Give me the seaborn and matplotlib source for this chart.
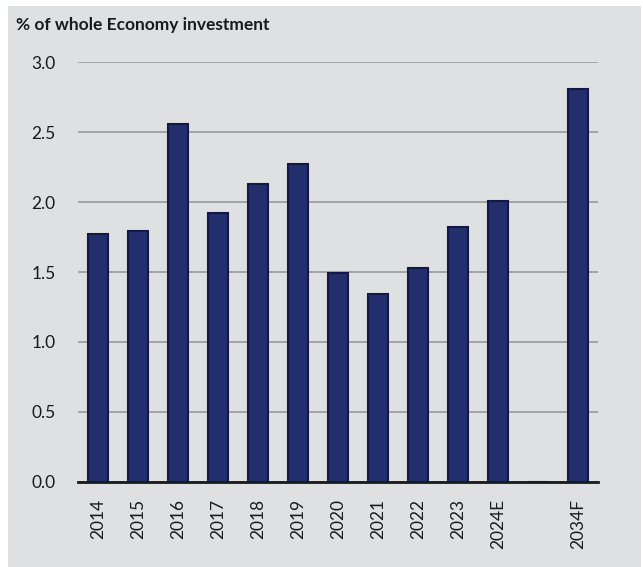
import matplotlib
matplotlib.use("Agg")
import matplotlib.pyplot as plt
from matplotlib.patches import Rectangle
import seaborn as sns
import pandas as pd

# Share of whole-economy investment by year
years = ["2014", "2015", "2016", "2017", "2018", "2019", "2020",
         "2021", "2022", "2023", "2024E", "", "2034F"]
values = [1.77, 1.79, 2.56, 1.92, 2.13, 2.27, 1.49,
          1.34, 1.53, 1.82, 2.01, 0.0, 2.81]
y_ticks = [0.0, 0.5, 1.0, 1.5, 2.0, 2.5, 3.0]

title = "% of whole Economy investment"

BG = "#dfe0e2"
BAR = "#232e6c"
EDGE = "#121848"

sns.set_theme(style="white")
plt.rcParams["font.family"] = ["Lato", "DejaVu Sans"]

df = pd.DataFrame({"year": years, "value": values})

fig = plt.figure(figsize=(6.43, 5.67), dpi=100, facecolor="white")
fig.patches.append(Rectangle((8 / 643, 0), (641 - 8) / 643, (567 - 6) / 567,
                             transform=fig.transFigure, facecolor=BG,
                             edgecolor="none", zorder=-10))
ax = fig.add_axes([78 / 643, 85 / 567, 520 / 643, 420 / 567])
ax.set_facecolor("none")

sns.barplot(data=df, x="year", y="value", order=years, ax=ax,
            color=BAR, width=0.52, edgecolor=EDGE, linewidth=1.5,
            saturation=1, zorder=3)

ax.set_xlim(-0.5, len(years) - 0.5)
ax.set_ylim(0, 3.0)
ax.set_yticks(y_ticks)
ax.set_yticklabels([f"{t:.1f}" for t in y_ticks], fontsize=12.5, color="#1a1a1a")
ax.yaxis.grid(True, color="#9a9a9a", linewidth=1.2, zorder=0)
ax.set_axisbelow(True)
ax.tick_params(axis="y", length=0, pad=16)
ax.tick_params(axis="x", length=0, pad=12)
ax.set_xticks(range(len(years)))
ax.set_xticklabels(years, rotation=90, fontsize=12.5, color="#1a1a1a")
for s in ["top", "right", "left"]:
    ax.spines[s].set_visible(False)
ax.spines["bottom"].set_color("#1a1a1a")
ax.spines["bottom"].set_linewidth(2)
ax.spines["bottom"].set_zorder(5)
ax.set_xlabel("")
ax.set_ylabel("")

fig.text(16 / 643, 1 - 25 / 567, title, fontsize=12.5, fontweight="bold",
         color="#1a1a1a", ha="left", va="center")

fig.savefig("out.png", dpi=100, facecolor="white")
